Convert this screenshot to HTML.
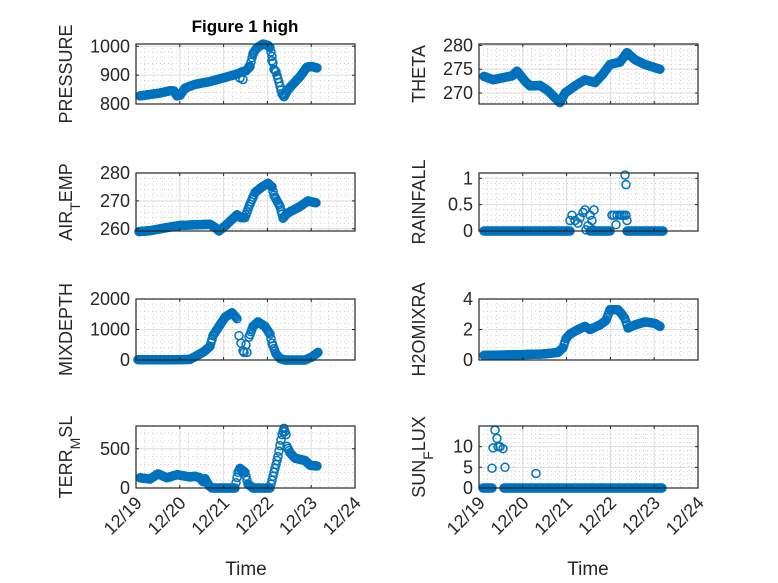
<!DOCTYPE html>
<html><head><meta charset="utf-8">
<style>
html,body{margin:0;padding:0;background:#fff;}
svg{display:block;font-family:"Liberation Sans",sans-serif;}
</style></head>
<body>
<svg id="s" width="778" height="583" viewBox="0 0 778 583" xmlns="http://www.w3.org/2000/svg">
<rect width="778" height="583" fill="#fff"/>
<text x="245" y="32" font-size="17" font-weight="bold" text-anchor="middle" fill="#000">Figure 1 high</text>
<text x="246" y="575" font-size="19" text-anchor="middle" fill="#262626">Time</text>
<text x="588" y="575" font-size="19" text-anchor="middle" fill="#262626">Time</text>
</svg>
<script>
var S=document.getElementById('s'),NS='http://www.w3.org/2000/svg';
function el(n,a,p){var e=document.createElementNS(NS,n);for(var k in a)e.setAttribute(k,a[k]);(p||S).appendChild(e);return e;}
var rows=[[44,104],[173,231],[299,360],[426,488]];
var cols=[[136,355],[479,698]];
function panel(c,r,ylim,yt,label,pts,xlab){
 var x0=cols[c][0],x1=cols[c][1],y0=rows[r][0],y1=rows[r][1];
 var W=x1-x0,H=y1-y0;
 function Y(v){return y1-(v-ylim[0])/(ylim[1]-ylim[0])*H;}
 var g=el('g',{});
 for(var d=0;d<5;d++)for(var m=1;m<5;m++){var xx=x0+(d+m/5)*W/5;el('line',{x1:xx,x2:xx,y1:y0,y2:y1,stroke:'#c8c8c8','stroke-width':0.8,'stroke-dasharray':'1 3'},g);}
 var step=yt.length>1?yt[1]-yt[0]:1;
 for(var v=yt[0]-step;v<ylim[1];v+=step/5){if(v<=ylim[0])continue;var yy=Y(v);el('line',{x1:x0,x2:x1,y1:yy,y2:yy,stroke:'#c8c8c8','stroke-width':0.8,'stroke-dasharray':'1 3'},g);}
 for(var d=1;d<5;d++){var xx=x0+d*W/5;el('line',{x1:xx,x2:xx,y1:y0,y2:y1,stroke:'#dedede','stroke-width':1},g);}
 yt.forEach(function(v){var yy=Y(v);if(yy>y0+1&&yy<y1-1)el('line',{x1:x0,x2:x1,y1:yy,y2:yy,stroke:'#dedede','stroke-width':1},g);});
 var pg=el('g',{fill:'none',stroke:'#0072BD','stroke-width':1.5},g);
 pts.forEach(function(p){el('circle',{cx:(x0+p[0]).toFixed(1),cy:Y(p[1]).toFixed(1),r:4},pg);});
 el('rect',{x:x0,y:y0,width:W,height:H,fill:'none',stroke:'#262626','stroke-width':1.2},g);
 for(var d=0;d<=5;d++){var xx=x0+d*W/5;el('line',{x1:xx,x2:xx,y1:y1,y2:y1-3,stroke:'#262626'},g);el('line',{x1:xx,x2:xx,y1:y0,y2:y0+3,stroke:'#262626'},g);}
 yt.forEach(function(v){var yy=Y(v);el('line',{x1:x0,x2:x0+3,y1:yy,y2:yy,stroke:'#262626'},g);el('line',{x1:x1,x2:x1-3,y1:yy,y2:yy,stroke:'#262626'},g);
  var t=el('text',{x:x0-6,y:yy+6,'font-size':18,'text-anchor':'end',fill:'#262626'},g);t.textContent=(v===0.5?'0.5':String(v));});
 var lx=x0-(c==0?64:54),ly=(y0+y1)/2;
 var t=el('text',{transform:'translate('+lx+','+ly+') rotate(-90)','font-size':18,'text-anchor':'middle',fill:'#262626'},g);
 label.forEach(function(s){var ts=el('tspan',{},t);if(s[1])ts.setAttribute('baseline-shift','sub'),ts.setAttribute('font-size','14');ts.textContent=s[0];});
 if(xlab){var lab=['12/19','12/20','12/21','12/22','12/23','12/24'];
  for(var d=0;d<=5;d++){var xx=x0+d*W/5;var tt=el('text',{transform:'translate('+(xx+7)+','+(y1+16)+') rotate(-45)','font-size':18,'text-anchor':'end',fill:'#262626'},g);tt.textContent=lab[d];}}
}
function interp(k,from,to,stp){var out=[];stp=stp||1;for(var x=from;x<=to;x+=stp){for(var i=0;i<k.length-1;i++){if(x>=k[i][0]&&x<=k[i+1][0]){var f=(x-k[i][0])/(k[i+1][0]-k[i][0]||1);out.push([x,k[i][1]+f*(k[i+1][1]-k[i][1])]);break;}}}return out;}
function L(k){return k.map(function(p){return [p[0]-136,p[1]];});}
function R(k){return k.map(function(p){return [p[0]-479,p[1]];});}
function run(k){var a=k[0][0],b=k[k.length-1][0];return interp(k,a,b,1);}
var pr=run(L([[140,828],[160,838],[170,846],[174,845],[177,828],[180,830],[185,855],[195,868],[210,878],[225,892],[238,905],[242,912],[246,915],[250,930],[253,975],[257,995],[263,1008],[268,1003],[270,996],[272,965],[274,920],[276,912],[279,875],[282,835],[284,825],[288,850],[300,895],[307,928],[312,930],[317,925]]));
pr.push([240-136,890],[243-136,885],[249-136,930],[253-136,972],[272-136,950]);
panel(0,0,[800,1008],[800,900,1000],[['PRESSURE']],pr,false);
var th=run(R([[484,273.5],[493,272.8],[505,273.3],[512,273.6],[517,274.6],[525,272.5],[530,271.5],[540,271.6],[548,270.5],[555,269],[560,268],[565,270],[575,271.5],[585,272.8],[595,272.2],[603,274],[610,276],[620,276.5],[627,278.5],[635,277],[645,276],[660,275]]));
panel(1,0,[267.7,280.3],[270,275,280],[['THETA']],th,false);
var at=run(L([[139,259],[150,259.3],[165,260.3],[180,261.2],[200,261.5],[210,261.6],[215,260.5],[219,259.2],[225,261],[237,265],[241,264],[245,264],[249,268],[255,273],[262,275],[268,276.3],[272,275],[274,272],[277,270],[280,268],[283,263.8],[287,265.5],[300,268],[308,270],[316,269.3]]));
panel(0,1,[259.2,280],[260,270,280],[['AIR'],['T',1],['EMP']],at,false);
var rf=interp(R([[484,0],[570,0]]),5,91,1).concat(interp(R([[590,0],[610,0]]),111,131,1)).concat(interp(R([[627,0],[663,0]]),148,184,1));
[[570,0.2],[572,0.3],[575,0.2],[578,0.15],[580,0.25],[583,0.35],[585,0.4],[588,0.1],[586,0.02],[590,0.3],[592,0.2],[594,0.4],[593,0.02],[612,0.3],[614,0.3],[617,0.3],[620,0.3],[622,0.3],[624,0.3],[626,0.3],[616,0.12],[625,1.06],[626,0.88],[627,0.2]].forEach(function(p){rf.push([p[0]-479,p[1]]);});
panel(1,1,[0,1.1],[0,0.5,1],[['RAINFALL']],rf,false);
var md=run(L([[138,10],[170,5],[190,20],[200,200],[205,300],[210,450],[213,800],[217,1000],[225,1400],[232,1550],[236,1400],[237,1350]])).concat(run(L([[249,750],[253,1100],[258,1250],[265,1100],[270,850],[272,550],[276,200],[280,50],[285,0],[305,0],[312,100],[318,250]])));
[[239,800],[241,550],[243,300],[244,250],[246,500],[247,250]].forEach(function(p){md.push([p[0]-136,p[1]]);});
panel(0,2,[0,2000],[0,1000,2000],[['MIXDEPTH']],md,false);
var hm=run(R([[484,0.3],[520,0.35],[545,0.4],[558,0.5],[563,0.8],[566,1.4],[570,1.7],[578,2],[585,2.2],[590,2],[600,2.3],[606,2.6],[610,3.3],[618,3.3],[622,3],[625,2.7],[628,2.1],[635,2.3],[645,2.5],[655,2.4],[660,2.2]]));
panel(1,2,[0,4],[0,2,4],[['H2OMIXRA']],hm,false);
var tr=run(L([[140,130],[150,115],[158,180],[167,130],[177,170],[190,140],[195,150],[200,130],[203,80],[205,120],[209,30],[212,0],[235,0],[238,200],[240,250],[245,200],[248,50],[253,0],[270,0],[272,100],[275,250],[278,400],[282,680],[284,760],[286,680],[287,530],[290,450],[295,380],[305,350],[310,290],[317,280]]));
panel(0,3,[0,790],[0,500],[['TERR'],['M',1],['SL']],tr,true);
var sf=interp(R([[483,0],[492,0]]),4,13,1).concat(interp(R([[504,0],[662,0]]),25,183,1));
[[492,4.8],[493,9.7],[495,14],[497,12],[500,10],[503,9.5],[505,5],[536,3.5],[498,10]].forEach(function(p){sf.push([p[0]-479,p[1]]);});
panel(1,3,[0,15],[0,5,10],[['SUN'],['F',1],['LUX']],sf,true);
</script>
</body></html>
